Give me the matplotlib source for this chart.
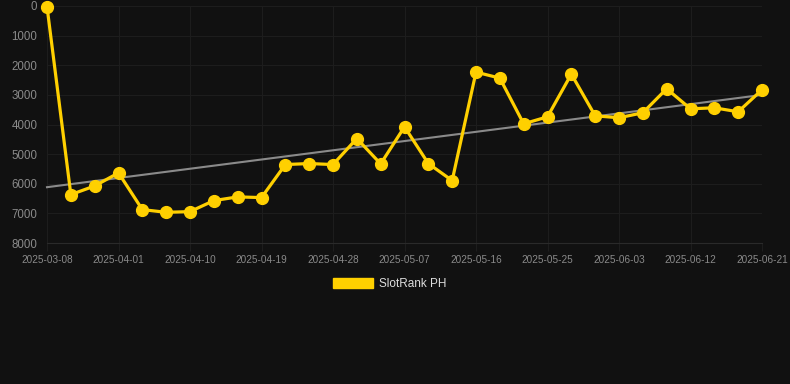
import numpy as np
import matplotlib
matplotlib.use("Agg")
import matplotlib.pyplot as plt
from matplotlib.patches import Patch

plt.rcParams['font.family'] = ['Liberation Sans', 'DejaVu Sans']

dates = ["2025-03-08", "2025-03-26", "2025-03-29", "2025-04-01", "2025-04-04", "2025-04-07",
         "2025-04-10", "2025-04-13", "2025-04-16", "2025-04-19", "2025-04-22", "2025-04-25",
         "2025-04-28", "2025-05-01", "2025-05-04", "2025-05-07", "2025-05-10", "2025-05-13",
         "2025-05-16", "2025-05-19", "2025-05-22", "2025-05-25", "2025-05-28", "2025-05-31",
         "2025-06-03", "2025-06-06", "2025-06-09", "2025-06-12", "2025-06-15", "2025-06-18",
         "2025-06-21"]
ranks = [20, 6366, 6075, 5633, 6873, 6964, 6941, 6569, 6444, 6467, 5352, 5318, 5352, 4473,
         5329, 4078, 5318, 5893, 2231, 2434, 3977, 3740, 2299, 3706, 3773, 3604, 2793, 3470,
         3436, 3571, 2827]
series_name = "SlotRank PH"
yticks = [0, 1000, 2000, 3000, 4000, 5000, 6000, 7000, 8000]

W, H = 790, 384
fig = plt.figure(figsize=(W / 100, H / 100), dpi=100)
fig.patch.set_facecolor("#111111")
ax = fig.add_axes([47 / W, 1 - 243 / H, (762 - 47) / W, (243 - 6) / H])
ax.set_facecolor("#111111")

x = np.arange(len(ranks))
gold = "#FFD000"

# trend line
coef = np.polyfit(x, ranks, 1)
ax.plot(x, np.polyval(coef, x), color="#8a8a8a", lw=1.5, zorder=2, clip_on=False)

ax.plot(x, ranks, color=gold, lw=2.3, marker="o", markersize=8.5,
        markerfacecolor=gold, markeredgecolor=gold, zorder=3, clip_on=False)

ax.set_xlim(0, len(ranks) - 1)
ax.set_ylim(8000, 0)
ax.set_yticks(yticks)
ax.set_yticklabels([str(v) for v in yticks])
tick_idx = list(range(0, len(ranks), 3))
ax.set_xticks(tick_idx)
ax.set_xticklabels([dates[i] for i in tick_idx])

ax.grid(True, color="#1d1d1d", lw=0.8, zorder=0)
for s in ["top", "right", "left"]:
    ax.spines[s].set_visible(False)
ax.spines["bottom"].set_color("#2a2a2a")
ax.tick_params(axis="y", colors="#2a2a2a", labelcolor="#8a8a8a", labelsize=8.3, length=0, pad=7)
ax.tick_params(axis="x", colors="#1d1d1d", labelcolor="#8a8a8a", labelsize=7.2, length=6, width=0.8, pad=2.5)

handle = Patch(facecolor=gold, edgecolor=gold)
leg = fig.legend([handle], [series_name], loc="center", bbox_to_anchor=(0.5 - 5 / W, 1 - 284 / H),
                 frameon=False, fontsize=8.5, handlelength=3.4, handleheight=1.0,
                 handletextpad=0.5, labelcolor="#dddddd")

fig.savefig("out.png", dpi=100, facecolor=fig.get_facecolor())
